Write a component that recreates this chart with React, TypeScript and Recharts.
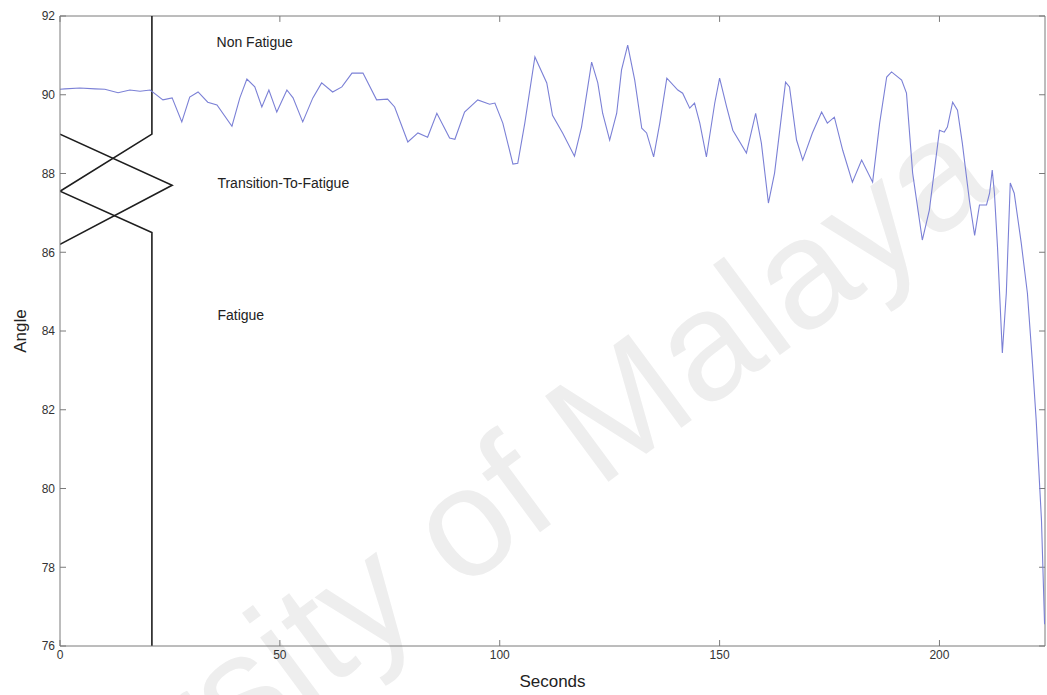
import { LineChart, Line, XAxis, YAxis, ReferenceDot, ReferenceLine } from "recharts";

// elbow angle trace (seconds vs degrees)
const seconds = [
  0, 1.1, 4.5, 8.0, 10.2, 13.2, 15.9, 18.2, 20.5, 22.0, 23.4, 25.5, 27.7, 29.5, 31.4, 33.6,
  35.7, 39.1, 40.9, 42.5, 44.3, 45.9, 47.5, 49.3, 51.6, 53.0, 55.2, 57.5, 59.5, 62.0, 64.1,
  66.4, 68.9, 72.0, 74.5, 76.1, 79.1, 81.4, 83.6, 85.7, 88.6, 89.8, 92.0, 95.0, 97.7, 98.9,
  100.7, 103.0, 104.1, 105.7, 108.0, 110.7, 112.0, 114.3, 117.0, 118.6, 120.9, 122.3, 123.4,
  125.0, 126.6, 127.7, 129.1, 130.7, 132.3, 133.4, 135.0, 136.4, 138.0, 140.5, 141.6, 143.2,
  144.3, 145.5, 147.0, 148.9, 150.0, 151.6, 153.0, 156.1, 158.2, 159.5, 161.1, 162.5, 165.0,
  165.9, 167.5, 168.9, 171.1, 173.2, 174.5, 176.1, 178.0, 180.2, 182.3, 184.8, 186.4, 188.0,
  189.1, 191.4, 192.5, 193.9, 196.1, 197.7, 200.0, 201.1, 201.8, 203.0, 204.1, 205.2, 206.8,
  208.0, 209.1, 210.7, 211.4, 212.0, 212.5, 213.2, 214.3, 215.2, 216.1, 217.0, 218.6, 220.0,
  221.1, 222.0, 223.2, 223.9,
];
const angle = [
  90.14, 90.15, 90.17, 90.15, 90.14, 90.05, 90.12, 90.09, 90.12, 89.99, 89.87, 89.92, 89.31,
  89.94, 90.07, 89.81, 89.74, 89.2, 89.92, 90.4, 90.2, 89.69, 90.12, 89.56, 90.12, 89.92,
  89.31, 89.92, 90.3, 90.07, 90.2, 90.55, 90.55, 89.87, 89.89, 89.69, 88.8, 89.03, 88.92,
  89.53, 88.9, 88.87, 89.56, 89.87, 89.76, 89.79, 89.28, 88.24, 88.26, 89.28, 90.96, 90.3,
  89.48, 89.03, 88.44, 89.18, 90.83, 90.3, 89.53, 88.85, 89.53, 90.63, 91.26, 90.37, 89.15,
  89.03, 88.42, 89.28, 90.42, 90.12, 90.04, 89.66, 89.79, 89.28, 88.42, 89.79, 90.42, 89.69,
  89.1, 88.52, 89.53, 88.77, 87.25, 88.01, 90.32, 90.2, 88.85, 88.34, 89.03, 89.56, 89.28,
  89.43, 88.59, 87.78, 88.34, 87.78, 89.28, 90.45, 90.58, 90.37, 90.04, 88.01, 86.31, 87.07,
  89.1, 89.05, 89.18, 89.81, 89.61, 88.77, 87.32, 86.43, 87.2, 87.2, 87.5, 88.09, 87.5, 86.13,
  83.44, 84.96, 87.76, 87.5, 86.23, 84.96, 83.26, 81.73, 79.19, 76.55,
];

// zone boundary polylines
const upperEdgeX = [20.9, 20.9, 0];
const upperEdgeY = [92, 89, 87.55];
const middleEdgeX = [0, 25.5, 0];
const middleEdgeY = [89, 87.7, 86.2];
const lowerEdgeX = [0, 20.9, 20.9];
const lowerEdgeY = [87.55, 86.5, 76];

const xTicks = [0, 50, 100, 150, 200];
const yTicks = [76, 78, 80, 82, 84, 86, 88, 90, 92];
const xMax = 224;
const yMin = 76;
const yMax = 92;

const zoneLabels = [
  { text: "Non Fatigue", x: 35.6, y: 91.35 },
  { text: "Transition-To-Fatigue", x: 35.8, y: 87.75 },
  { text: "Fatigue", x: 35.8, y: 84.4 },
];

const toRows = (xs: number[], ys: number[]) => xs.map((x, i) => ({ t: x, v: ys[i] }));

const W = 1047;
const H = 695;
const font = "'Liberation Sans', Arial, Helvetica, sans-serif";
const axisColor = "#7a7a7a";
const tickStyle = { fontSize: 12, fill: "#333", fontFamily: font };

// full-bleed page
document.body.style.margin = "0";

export default function App() {
  const trace = toRows(seconds, angle);
  const edges = [
    toRows(upperEdgeX, upperEdgeY),
    toRows(middleEdgeX, middleEdgeY),
    toRows(lowerEdgeX, lowerEdgeY),
  ];

  return (
    <div style={{ position: "relative", width: W, height: H, fontFamily: font }}>
      <svg width={W} height={H} style={{ position: "absolute", left: 0, top: 0 }}>
        <text
          x={1000}
          y={192}
          textAnchor="end"
          fontSize={155}
          fontFamily={font}
          fill="#eeeeee"
          transform="rotate(-36.5 1000 192)"
        >
          University of Malaya
        </text>
      </svg>
      <LineChart
        width={W}
        height={H}
        margin={{ top: 16, right: 2, left: 0, bottom: 0 }}
        style={{ position: "relative" }}
      >
        <XAxis
          dataKey="t"
          type="number"
          domain={[0, xMax]}
          ticks={xTicks}
          allowDataOverflow
          height={49}
          stroke={axisColor}
          tickSize={-6}
          tickMargin={10}
          tick={tickStyle}
          label={{
            value: "Seconds",
            position: "insideBottom",
            offset: 8,
            style: { fontSize: 17, fill: "#222", fontFamily: font },
          }}
        />
        <YAxis
          dataKey="v"
          type="number"
          domain={[yMin, yMax]}
          ticks={yTicks}
          allowDataOverflow
          width={60}
          stroke={axisColor}
          tickSize={-6}
          tickMargin={11}
          tick={tickStyle}
          label={{
            value: "Angle",
            angle: -90,
            position: "insideLeft",
            offset: 20,
            style: { fontSize: 17, fill: "#222", fontFamily: font, textAnchor: "middle" },
          }}
        />
        {/* box: top and right edges with inward ticks */}
        <ReferenceLine y={yMax} stroke={axisColor} />
        <ReferenceLine x={xMax} stroke={axisColor} />
        {xTicks.map((t) => (
          <ReferenceLine
            key={"tx" + t}
            segment={[
              { x: t, y: yMax },
              { x: t, y: yMax - 0.15 },
            ]}
            stroke={axisColor}
          />
        ))}
        {yTicks.map((v) => (
          <ReferenceLine
            key={"ty" + v}
            segment={[
              { x: xMax, y: v },
              { x: xMax - 1.35, y: v },
            ]}
            stroke={axisColor}
          />
        ))}
        {edges.map((rows, i) => (
          <Line
            key={i}
            data={rows}
            dataKey="v"
            type="linear"
            stroke="#1e1e1e"
            strokeWidth={1.6}
            dot={false}
            isAnimationActive={false}
          />
        ))}
        <Line
          data={trace}
          dataKey="v"
          type="linear"
          stroke="#7b80d6"
          strokeWidth={1.1}
          dot={false}
          isAnimationActive={false}
        />
        {zoneLabels.map((z) => (
          <ReferenceDot
            key={z.text}
            x={z.x}
            y={z.y}
            r={0}
            fill="none"
            stroke="none"
            label={{
              value: z.text,
              position: "right",
              offset: 0,
              style: { fontSize: 14, fill: "#222", fontFamily: font },
            }}
          />
        ))}
      </LineChart>
    </div>
  );
}
